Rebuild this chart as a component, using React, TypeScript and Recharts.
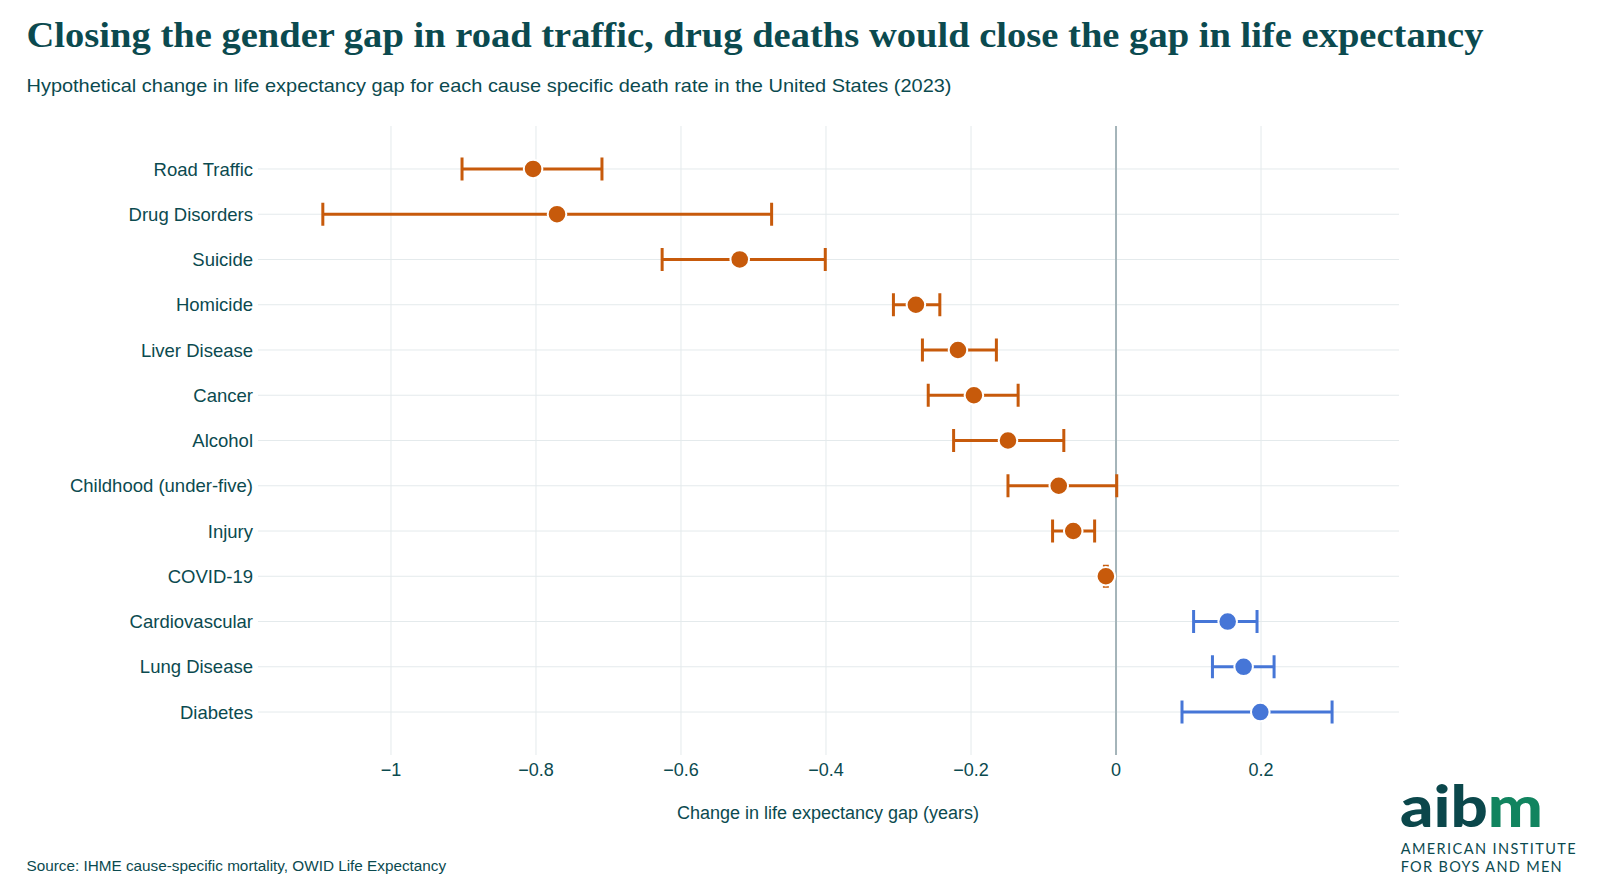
import React from "react"
import {
  ScatterChart,
  Scatter,
  XAxis,
  YAxis,
  CartesianGrid,
  ErrorBar,
  ReferenceLine,
} from "recharts"

const causes = [
  "Road Traffic",
  "Drug Disorders",
  "Suicide",
  "Homicide",
  "Liver Disease",
  "Cancer",
  "Alcohol",
  "Childhood (under-five)",
  "Injury",
  "COVID-19",
  "Cardiovascular",
  "Lung Disease",
  "Diabetes",
]
const estimates = [-0.804, -0.771, -0.519, -0.276, -0.218, -0.196, -0.149, -0.079, -0.059, -0.014, 0.154, 0.176, 0.199]
const lowers = [-0.902, -1.094, -0.626, -0.307, -0.267, -0.259, -0.224, -0.149, -0.0875, -0.016, 0.107, 0.133, 0.091]
const uppers = [-0.709, -0.475, -0.401, -0.243, -0.165, -0.135, -0.072, 0.001, -0.0295, -0.012, 0.1945, 0.218, 0.298]
const xTicks = [-1, -0.8, -0.6, -0.4, -0.2, 0, 0.2]

const X_DOMAIN = [-1.1834, 0.3903]
const Y_DOMAIN = [-0.95, 12.95]

const ORANGE = "#c75a0b"
const BLUE = "#4676d7"
const TEAL = "#0b4a4f"
const GRID = "#e4eaec"
const SANS = "Liberation Sans, Arial, sans-serif"

const rows = causes.map((cause, i) => ({
  cause,
  row: i,
  value: estimates[i],
  err: [estimates[i] - lowers[i], uppers[i] - estimates[i]],
}))
const negRows = rows.filter((d) => d.value < 0)
const posRows = rows.filter((d) => d.value >= 0)

const fmtX = (v: number) => (v < 0 ? "\u2212" + Math.abs(v) : String(v))

const dot = (color: string) => (props: any) => (
  <circle cx={props.cx} cy={props.cy} r={9.3} fill={color} stroke="#fff" strokeWidth={2} />
)

// grid only at the tick values, no frame around the plot
const vGrid = ({ offset }: any) =>
  xTicks.map((t) => offset.left + ((t - X_DOMAIN[0]) / (X_DOMAIN[1] - X_DOMAIN[0])) * offset.width)
const hGrid = ({ offset }: any) =>
  causes.map((_, i) => offset.top + ((i - Y_DOMAIN[0]) / (Y_DOMAIN[1] - Y_DOMAIN[0])) * offset.height)

export default function App() {
  return (
    <div style={{ position: "absolute", left: 0, top: 0, width: 1599, height: 892, background: "#fff" }}>
      <div style={{ position: "absolute", left: 0, top: 0 }}>
        <ScatterChart width={1599} height={892} margin={{ top: 126, right: 200, bottom: 77, left: 8 }}>
          <CartesianGrid
            stroke={GRID}
            strokeWidth={1}
            verticalCoordinatesGenerator={vGrid}
            horizontalCoordinatesGenerator={hGrid}
          />
          <XAxis
            type="number"
            dataKey="value"
            domain={X_DOMAIN}
            ticks={xTicks}
            tickFormatter={fmtX}
            allowDataOverflow
            axisLine={false}
            tickLine={false}
            height={60}
            tick={{ fill: TEAL, fontSize: 18, fontFamily: SANS }}
          />
          <YAxis
            type="number"
            dataKey="row"
            domain={Y_DOMAIN}
            reversed
            ticks={causes.map((_, i) => i)}
            interval={0}
            tickFormatter={(i: number) => causes[i] ?? ""}
            allowDataOverflow
            axisLine={false}
            tickLine={false}
            tickSize={3}
            tickMargin={2}
            width={250}
            tick={{ fill: TEAL, fontSize: 18.5, fontFamily: SANS }}
          />
          <ReferenceLine x={0} stroke="#a4b4b9" strokeWidth={2} />
          <Scatter data={negRows} fill={ORANGE} shape={dot(ORANGE)} isAnimationActive={false}>
            <ErrorBar dataKey="err" direction="x" width={11.5} strokeWidth={3} stroke={ORANGE} isAnimationActive={false} />
          </Scatter>
          <Scatter data={posRows} fill={BLUE} shape={dot(BLUE)} isAnimationActive={false}>
            <ErrorBar dataKey="err" direction="x" width={11.5} strokeWidth={3} stroke={BLUE} isAnimationActive={false} />
          </Scatter>
        </ScatterChart>
      </div>
      <svg width={1599} height={892} style={{ position: "absolute", left: 0, top: 0, pointerEvents: "none" }}>
        <text
          x={26.5}
          y={46.7}
          fill={TEAL}
          fontFamily="Liberation Serif, Times New Roman, serif"
          fontWeight={700}
          fontSize={35}
          textLength={1457}
          lengthAdjust="spacingAndGlyphs"
        >
          Closing the gender gap in road traffic, drug deaths would close the gap in life expectancy
        </text>
        <text
          x={26.5}
          y={91.7}
          fill={TEAL}
          fontFamily={SANS}
          fontSize={18.5}
          textLength={925}
          lengthAdjust="spacingAndGlyphs"
        >
          Hypothetical change in life expectancy gap for each cause specific death rate in the United States (2023)
        </text>
        <text x={828} y={818.5} fill={TEAL} fontFamily={SANS} fontSize={18} textAnchor="middle">
          Change in life expectancy gap (years)
        </text>
        <text x={26.5} y={871} fill={TEAL} fontFamily={SANS} fontSize={15.3}>
          Source: IHME cause-specific mortality, OWID Life Expectancy
        </text>
        {/* logo */}
        <text
          x={1400}
          y={826.7}
          fontFamily="Lato, sans-serif"
          fontWeight={900}
          fontSize={57}
          textLength={143}
          lengthAdjust="spacingAndGlyphs"
        >
          <tspan fill="#0b474b">aib</tspan>
          <tspan fill="#11845f">m</tspan>
        </text>
        <text
          x={1400.7}
          y={854.3}
          fill={TEAL}
          fontFamily="Lato, sans-serif"
          fontWeight={400}
          fontSize={14.5}
          textLength={175}
          lengthAdjust="spacing"
        >
          AMERICAN INSTITUTE
        </text>
        <text
          x={1400.7}
          y={871.7}
          fill={TEAL}
          fontFamily="Lato, sans-serif"
          fontWeight={400}
          fontSize={14.5}
          textLength={161}
          lengthAdjust="spacing"
        >
          FOR BOYS AND MEN
        </text>
      </svg>
    </div>
  )
}
